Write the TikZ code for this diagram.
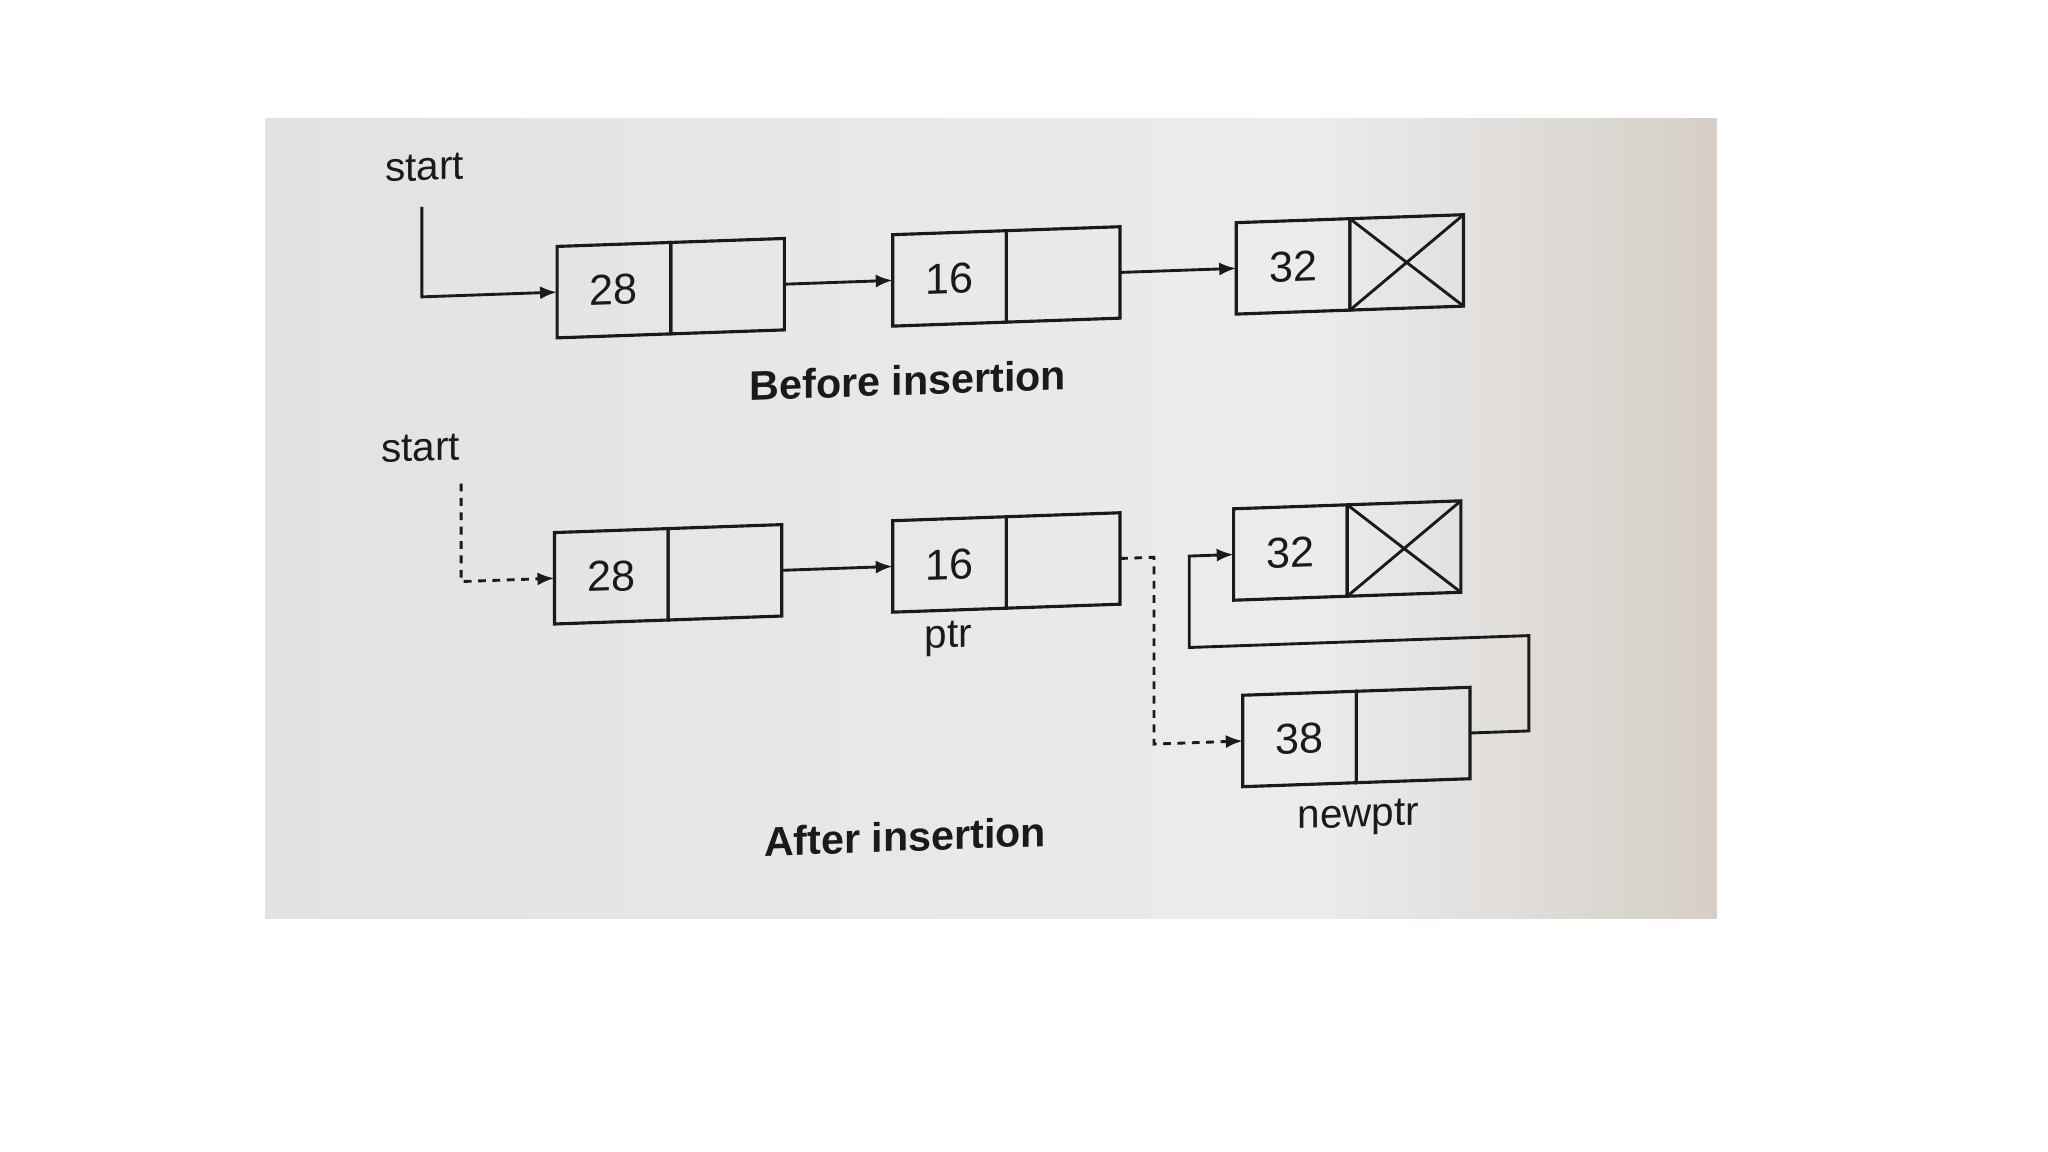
\documentclass[tikz,border=0pt]{standalone}
\usepackage{fontspec}
\setmainfont{Liberation Sans}
\usetikzlibrary{arrows.meta,calc}
\definecolor{paperL}{RGB}{226,226,228}
\definecolor{paperM}{RGB}{236,236,238}
\definecolor{paperR}{RGB}{213,207,199}
\definecolor{ink}{RGB}{26,26,26}
\begin{document}
\begin{tikzpicture}[x=0.5pt,y=-0.5pt,
  cell/.style={draw=ink, line width=1.2pt, outer sep=0pt, minimum width=43.5pt, minimum height=35pt, inner sep=0pt, font=\fontsize{16.5}{18}\selectfont, text=ink},
  lbl/.style={font=\fontsize{15.5}{18}\selectfont, text=ink, inner sep=0pt},
  ttl/.style={font=\bfseries\fontsize{15.8}{18}\selectfont, text=ink, inner sep=0pt},
  link/.style={draw=ink, line width=1.1pt, -{Latex[length=6.5pt,width=5pt]}},
  dlink/.style={link, dash pattern=on 3pt off 2.5pt},
  xline/.style={draw=ink, line width=1.1pt}
]
\useasboundingbox (0,0) rectangle (1568,882);
\fill[white] (0,0) rectangle (1568,882);
\shade[left color=paperL, right color=paperM] (203,91) rectangle (1000,703);
\shade[left color=paperM, right color=paperR] (999.5,91) rectangle (1314,703);
\begin{scope}[shift={(760,0)}, yslant=0.035, shift={(-760,0)}, transform shape]
% before insertion
\node[lbl] (st1) at (325,113) {start};
\node[cell] (a1) at (470,212) {28};
\node[cell, anchor=west] (a1p) at (a1.east) {};
\node[cell] (b1) at (727,212) {16};
\node[cell, anchor=west] (b1p) at (b1.east) {};
\node[cell] (c1) at (990,212) {32};
\node[cell, anchor=west] (c1p) at (c1.east) {};
\draw[xline] (c1p.north west) -- (c1p.south east) (c1p.north east) -- (c1p.south west);
\node[ttl] (t1) at (695,289) {Before insertion};
\coordinate (s1) at (323,143);
\draw[link] (s1) |- (a1.west);
\draw[link] (a1p.east) -- (b1.west);
\draw[link] (b1p.east) -- (c1.west);
% after insertion
\node[lbl] (st2) at (322,328) {start};
\node[cell] (a2) at (468,431) {28};
\node[cell, anchor=west] (a2p) at (a2.east) {};
\node[cell] (b2) at (727,431) {16};
\node[cell, anchor=west] (b2p) at (b2.east) {};
\node[cell] (c2) at (988,431) {32};
\node[cell, anchor=west] (c2p) at (c2.east) {};
\draw[xline] (c2p.north west) -- (c2p.south east) (c2p.north east) -- (c2p.south west);
\node[cell] (d2) at (995,574) {38};
\node[cell, anchor=west] (d2p) at (d2.east) {};
\node[lbl] (ptr) at (726,488) {ptr};
\node[lbl] (np) at (1040,636) {newptr};
\node[ttl] (t2) at (693,638) {After insertion};
\coordinate (s2) at (353,356);
\draw[dlink] (s2) |- (a2.west);
\draw[link] (a2p.east) -- (b2.west);
\draw[dlink] (b2p.east) -- ++(26,0) |- (d2.west);
\draw[link] (d2p.east) -- ++(45,0) -- ++(0,-73) -| ($(c2.west)+(-34,0)$) -- (c2.west);
\end{scope}
\end{tikzpicture}
\end{document}
